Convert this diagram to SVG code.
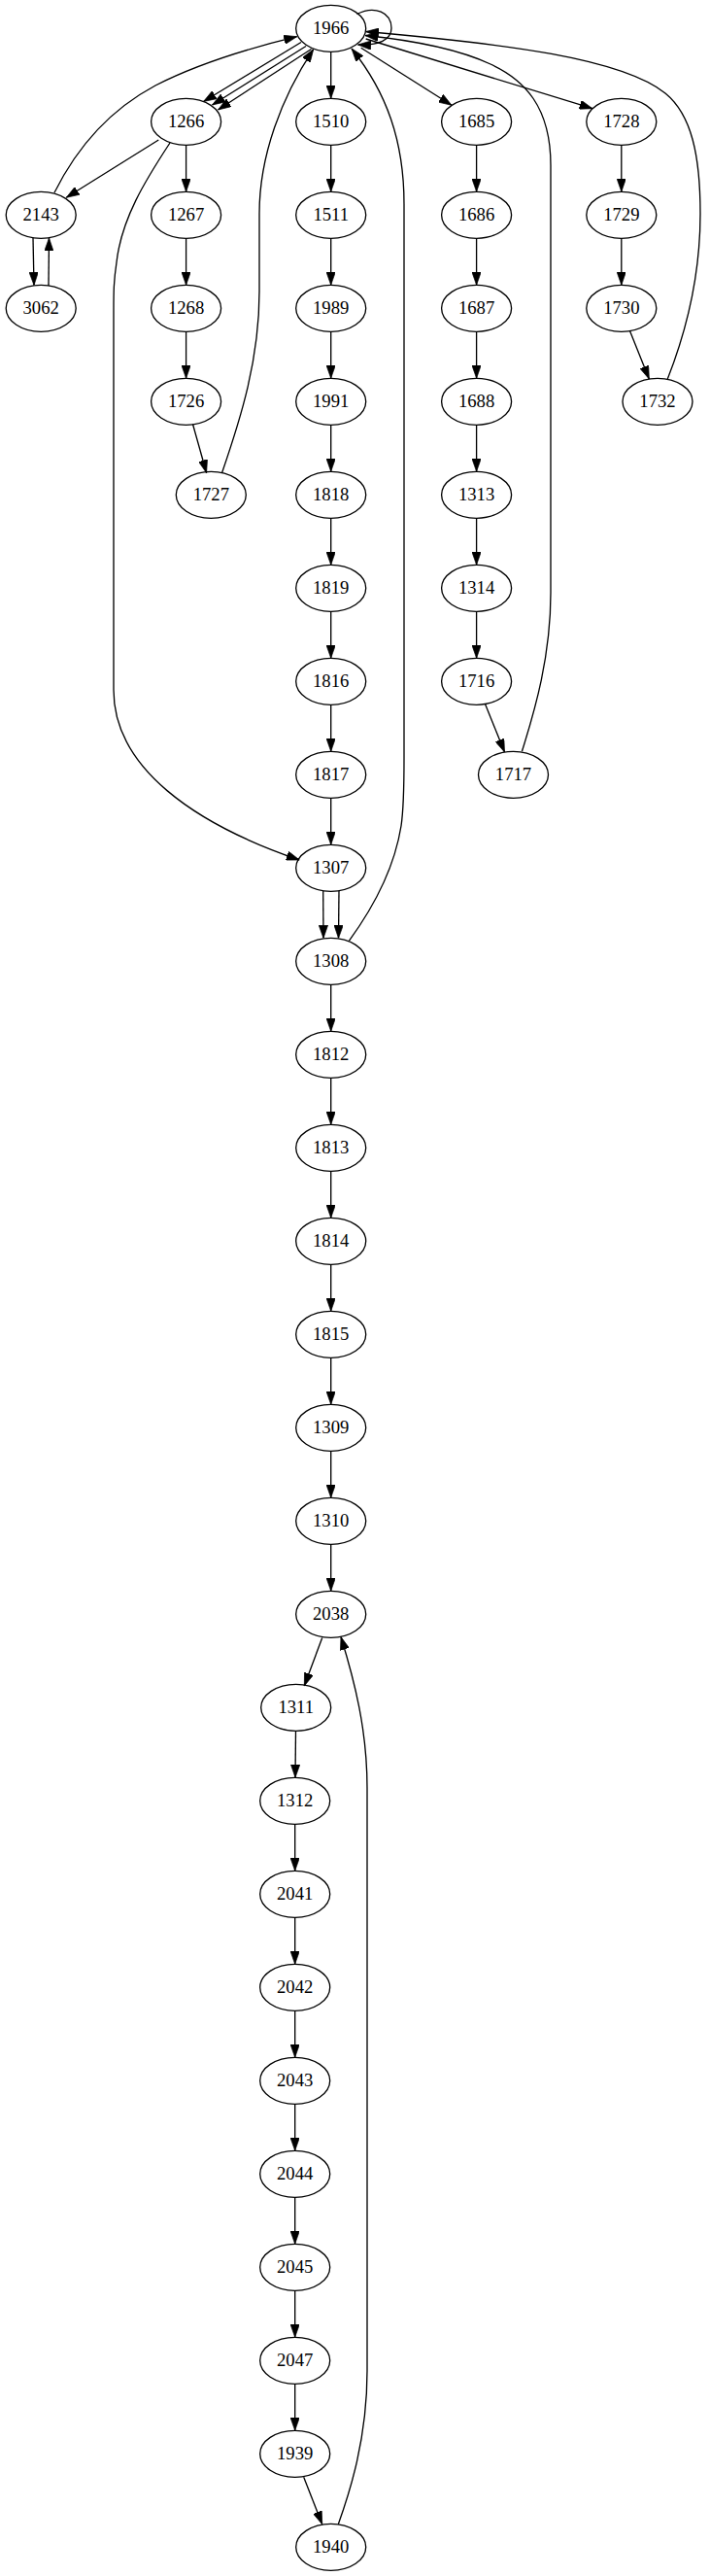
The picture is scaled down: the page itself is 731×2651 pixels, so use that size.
<svg xmlns="http://www.w3.org/2000/svg" width="731" height="2651" viewBox="0 0 731 2651">
<style>
.node ellipse{fill:none;stroke:#000;stroke-width:1.33}
.node text{font-family:"Liberation Serif","Times New Roman",serif;font-size:18.67px;text-anchor:middle;fill:#000}
.edges path{fill:none;stroke:#000;stroke-width:1.33;marker-end:url(#ah)}
</style>
<defs>
<marker id="ah" viewBox="0 0 10 7" refX="10" refY="3.5" markerWidth="13.33" markerHeight="9.33" markerUnits="userSpaceOnUse" orient="auto"><path d="M0,0 L10,3.5 L0,7 z" fill="#000" stroke="#000" stroke-width="0.5"/></marker>
</defs>
<rect width="731" height="2651" fill="#fff"/>
<g id="edges" class="edges">
<path d="M367.5,14.5 C386,5 403,13 403,29 C403,41 390,47 368.5,46"/>
<path d="M310,43.5 L209.5,104.5"/>
<path d="M315,47.5 L218.5,108"/>
<path d="M320.5,50.5 L224.5,113"/>
<path d="M340.7,53.3 V101.3"/>
<path d="M371.7,49.3 L465,108.3"/>
<path d="M376.7,40 L610,111.7"/>
<path d="M56,198.3 C80,150 115,112 160,88 C205,65 255,50 305.7,37.7"/>
<path d="M163.3,144 L68.3,203.3"/>
<path d="M191.6,149.3 V197.3"/>
<path d="M175,147 C150,185 125,225 120,270 C117,290 117,300 117,320 L117,710 C117,790 200,848 308.3,885"/>
<path d="M34,244.5 L35,293.5"/>
<path d="M50,294 L50.5,245"/>
<path d="M191.6,245.3 V293.3"/>
<path d="M191.6,341.3 V389.3"/>
<path d="M198.5,436.5 L212.6,486.7"/>
<path d="M228.5,486.7 C248,430 267,370 267,300 L267,220 C267,160 290,100 322.7,50.7"/>
<path d="M340.7,149.3 V197.3"/>
<path d="M340.7,245.3 V293.3"/>
<path d="M340.7,341.3 V389.3"/>
<path d="M340.7,437.3 V485.3"/>
<path d="M340.7,533.3 V581.3"/>
<path d="M340.7,629.3 V677.3"/>
<path d="M340.7,725.3 V773.3"/>
<path d="M340.7,821.3 V869.3"/>
<path d="M332.7,917 L333,965.5"/>
<path d="M349,917 L348.5,965.5"/>
<path d="M359.3,968.3 C380,940 405,900 413,850 C416,830 416,800 416,780 L416,210 C416,145 398,95 362,50"/>
<path d="M490.6,149.3 V197.3"/>
<path d="M490.6,245.3 V293.3"/>
<path d="M490.6,341.3 V389.3"/>
<path d="M490.6,437.3 V485.3"/>
<path d="M490.6,533.3 V581.3"/>
<path d="M490.6,629.3 V677.3"/>
<path d="M499.5,724.5 L519.5,774"/>
<path d="M537.4,773.3 C551,730 567,675 567,610 L567,170 C567,110 540,82 505,66 C475,52 430,42 376,36.5"/>
<path d="M639.8,149.3 V197.3"/>
<path d="M639.8,245.3 V293.3"/>
<path d="M648.5,340.5 L668.3,390"/>
<path d="M687.3,390 C705,345 721,285 721,220 C721,160 712,118 685,96 C640,60 520,45 376.7,32.5"/>
<path d="M340.7,1013.3 V1061.3"/>
<path d="M340.7,1109.3 V1157.3"/>
<path d="M340.7,1205.3 V1253.3"/>
<path d="M340.7,1301.3 V1349.3"/>
<path d="M340.7,1397.3 V1445.3"/>
<path d="M340.7,1493.3 V1541.3"/>
<path d="M340.7,1589.3 V1637.3"/>
<path d="M331.7,1685.5 L313.3,1735"/>
<path d="M304.5,1781.3 L304,1829.3"/>
<path d="M303.7,1877.3 V1925.3"/>
<path d="M303.7,1973.3 V2021.3"/>
<path d="M303.7,2069.3 V2117.3"/>
<path d="M303.7,2165.3 V2213.3"/>
<path d="M303.7,2261.3 V2309.3"/>
<path d="M303.7,2357.3 V2405.3"/>
<path d="M303.7,2453.3 V2501.3"/>
<path d="M312.7,2549.3 L331.7,2597.7"/>
<path d="M348.3,2597.7 C360,2565 378,2510 378,2440 L378,1840 C378,1780 365,1730 351,1684.5"/>
</g>
<g id="n1966" class="node"><ellipse cx="340.7" cy="29.3" rx="36" ry="24"/><text x="340.7" y="35.3">1966</text></g>
<g id="n1266" class="node"><ellipse cx="191.6" cy="125.3" rx="36" ry="24"/><text x="191.6" y="131.3">1266</text></g>
<g id="n1510" class="node"><ellipse cx="340.7" cy="125.3" rx="36" ry="24"/><text x="340.7" y="131.3">1510</text></g>
<g id="n1685" class="node"><ellipse cx="490.6" cy="125.3" rx="36" ry="24"/><text x="490.6" y="131.3">1685</text></g>
<g id="n1728" class="node"><ellipse cx="639.8" cy="125.3" rx="36" ry="24"/><text x="639.8" y="131.3">1728</text></g>
<g id="n2143" class="node"><ellipse cx="42.2" cy="221.3" rx="36" ry="24"/><text x="42.2" y="227.3">2143</text></g>
<g id="n1267" class="node"><ellipse cx="191.6" cy="221.3" rx="36" ry="24"/><text x="191.6" y="227.3">1267</text></g>
<g id="n1511" class="node"><ellipse cx="340.7" cy="221.3" rx="36" ry="24"/><text x="340.7" y="227.3">1511</text></g>
<g id="n1686" class="node"><ellipse cx="490.6" cy="221.3" rx="36" ry="24"/><text x="490.6" y="227.3">1686</text></g>
<g id="n1729" class="node"><ellipse cx="639.8" cy="221.3" rx="36" ry="24"/><text x="639.8" y="227.3">1729</text></g>
<g id="n3062" class="node"><ellipse cx="42.2" cy="317.3" rx="36" ry="24"/><text x="42.2" y="323.3">3062</text></g>
<g id="n1268" class="node"><ellipse cx="191.6" cy="317.3" rx="36" ry="24"/><text x="191.6" y="323.3">1268</text></g>
<g id="n1989" class="node"><ellipse cx="340.7" cy="317.3" rx="36" ry="24"/><text x="340.7" y="323.3">1989</text></g>
<g id="n1687" class="node"><ellipse cx="490.6" cy="317.3" rx="36" ry="24"/><text x="490.6" y="323.3">1687</text></g>
<g id="n1730" class="node"><ellipse cx="639.8" cy="317.3" rx="36" ry="24"/><text x="639.8" y="323.3">1730</text></g>
<g id="n1726" class="node"><ellipse cx="191.6" cy="413.3" rx="36" ry="24"/><text x="191.6" y="419.3">1726</text></g>
<g id="n1991" class="node"><ellipse cx="340.7" cy="413.3" rx="36" ry="24"/><text x="340.7" y="419.3">1991</text></g>
<g id="n1688" class="node"><ellipse cx="490.6" cy="413.3" rx="36" ry="24"/><text x="490.6" y="419.3">1688</text></g>
<g id="n1732" class="node"><ellipse cx="677" cy="413.3" rx="36" ry="24"/><text x="677" y="419.3">1732</text></g>
<g id="n1727" class="node"><ellipse cx="217.3" cy="509.3" rx="36" ry="24"/><text x="217.3" y="515.3">1727</text></g>
<g id="n1818" class="node"><ellipse cx="340.7" cy="509.3" rx="36" ry="24"/><text x="340.7" y="515.3">1818</text></g>
<g id="n1313" class="node"><ellipse cx="490.6" cy="509.3" rx="36" ry="24"/><text x="490.6" y="515.3">1313</text></g>
<g id="n1819" class="node"><ellipse cx="340.7" cy="605.3" rx="36" ry="24"/><text x="340.7" y="611.3">1819</text></g>
<g id="n1314" class="node"><ellipse cx="490.6" cy="605.3" rx="36" ry="24"/><text x="490.6" y="611.3">1314</text></g>
<g id="n1816" class="node"><ellipse cx="340.7" cy="701.3" rx="36" ry="24"/><text x="340.7" y="707.3">1816</text></g>
<g id="n1716" class="node"><ellipse cx="490.6" cy="701.3" rx="36" ry="24"/><text x="490.6" y="707.3">1716</text></g>
<g id="n1817" class="node"><ellipse cx="340.7" cy="797.3" rx="36" ry="24"/><text x="340.7" y="803.3">1817</text></g>
<g id="n1717" class="node"><ellipse cx="528.5" cy="797.3" rx="36" ry="24"/><text x="528.5" y="803.3">1717</text></g>
<g id="n1307" class="node"><ellipse cx="340.7" cy="893.3" rx="36" ry="24"/><text x="340.7" y="899.3">1307</text></g>
<g id="n1308" class="node"><ellipse cx="340.7" cy="989.3" rx="36" ry="24"/><text x="340.7" y="995.3">1308</text></g>
<g id="n1812" class="node"><ellipse cx="340.7" cy="1085.3" rx="36" ry="24"/><text x="340.7" y="1091.3">1812</text></g>
<g id="n1813" class="node"><ellipse cx="340.7" cy="1181.3" rx="36" ry="24"/><text x="340.7" y="1187.3">1813</text></g>
<g id="n1814" class="node"><ellipse cx="340.7" cy="1277.3" rx="36" ry="24"/><text x="340.7" y="1283.3">1814</text></g>
<g id="n1815" class="node"><ellipse cx="340.7" cy="1373.3" rx="36" ry="24"/><text x="340.7" y="1379.3">1815</text></g>
<g id="n1309" class="node"><ellipse cx="340.7" cy="1469.3" rx="36" ry="24"/><text x="340.7" y="1475.3">1309</text></g>
<g id="n1310" class="node"><ellipse cx="340.7" cy="1565.3" rx="36" ry="24"/><text x="340.7" y="1571.3">1310</text></g>
<g id="n2038" class="node"><ellipse cx="340.7" cy="1661.3" rx="36" ry="24"/><text x="340.7" y="1667.3">2038</text></g>
<g id="n1311" class="node"><ellipse cx="304.7" cy="1757.3" rx="36" ry="24"/><text x="304.7" y="1763.3">1311</text></g>
<g id="n1312" class="node"><ellipse cx="303.7" cy="1853.3" rx="36" ry="24"/><text x="303.7" y="1859.3">1312</text></g>
<g id="n2041" class="node"><ellipse cx="303.7" cy="1949.3" rx="36" ry="24"/><text x="303.7" y="1955.3">2041</text></g>
<g id="n2042" class="node"><ellipse cx="303.7" cy="2045.3" rx="36" ry="24"/><text x="303.7" y="2051.3">2042</text></g>
<g id="n2043" class="node"><ellipse cx="303.7" cy="2141.3" rx="36" ry="24"/><text x="303.7" y="2147.3">2043</text></g>
<g id="n2044" class="node"><ellipse cx="303.7" cy="2237.3" rx="36" ry="24"/><text x="303.7" y="2243.3">2044</text></g>
<g id="n2045" class="node"><ellipse cx="303.7" cy="2333.3" rx="36" ry="24"/><text x="303.7" y="2339.3">2045</text></g>
<g id="n2047" class="node"><ellipse cx="303.7" cy="2429.3" rx="36" ry="24"/><text x="303.7" y="2435.3">2047</text></g>
<g id="n1939" class="node"><ellipse cx="303.7" cy="2525.3" rx="36" ry="24"/><text x="303.7" y="2531.3">1939</text></g>
<g id="n1940" class="node"><ellipse cx="340.7" cy="2621.3" rx="36" ry="24"/><text x="340.7" y="2627.3">1940</text></g>
</svg>
